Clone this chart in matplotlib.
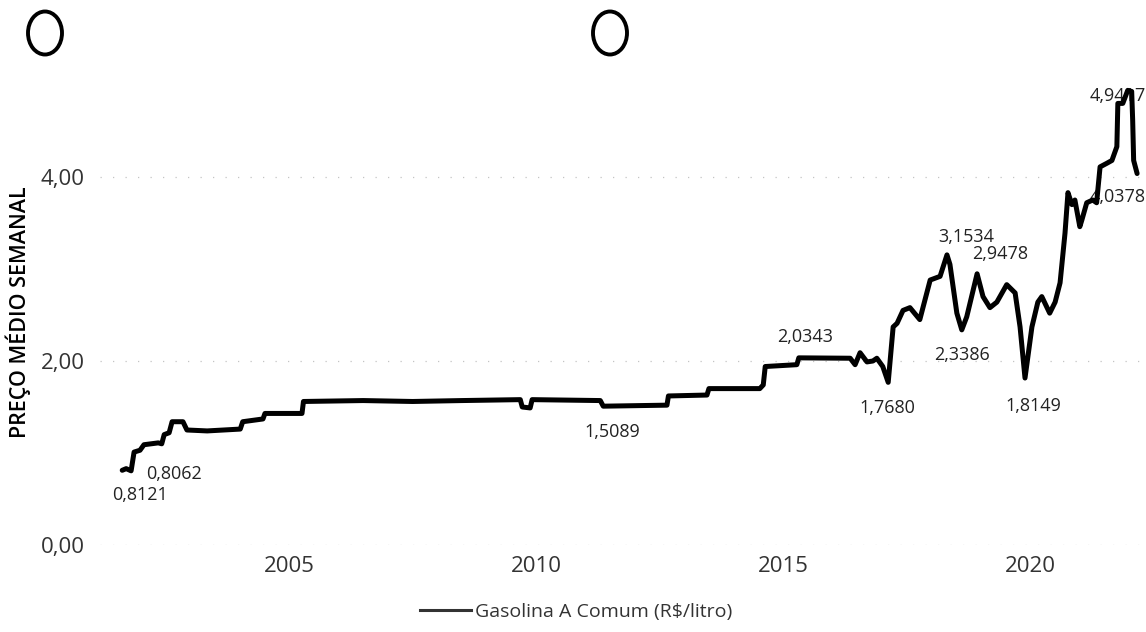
import matplotlib.pyplot as plt
from matplotlib.lines import Line2D
from matplotlib.patches import Ellipse

plt.rcParams['font.family'] = ['Open Sans', 'DejaVu Sans']

# weekly average price (x in decimal years)
datas = [2001.62, 2001.70, 2001.80, 2001.86, 2001.98, 2002.06, 2002.35, 2002.42,
         2002.47, 2002.57, 2002.63, 2002.85, 2002.93, 2003.34, 2004.01, 2004.06,
         2004.47, 2004.51, 2005.26, 2005.29, 2006.50, 2007.50, 2008.50, 2009.68,
         2009.72, 2009.88, 2009.92, 2011.30, 2011.36, 2012.65, 2012.68, 2013.46,
         2013.50, 2014.53, 2014.60, 2014.64, 2015.28, 2015.32, 2016.36, 2016.46,
         2016.56, 2016.70, 2016.82, 2016.90, 2017.02, 2017.13, 2017.23, 2017.31,
         2017.43, 2017.57, 2017.77, 2017.98, 2018.18, 2018.32, 2018.38, 2018.52,
         2018.62, 2018.72, 2018.93, 2019.05, 2019.19, 2019.33, 2019.53, 2019.70,
         2019.80, 2019.90, 2020.04, 2020.16, 2020.24, 2020.40, 2020.51, 2020.61,
         2020.71, 2020.77, 2020.85, 2020.91, 2021.01, 2021.05, 2021.15, 2021.27,
         2021.35, 2021.42, 2021.56, 2021.66, 2021.76, 2021.78, 2021.88, 2021.98,
         2022.06, 2022.08, 2022.10, 2022.17]
precos = [0.8121, 0.83, 0.8062, 1.01, 1.03, 1.09, 1.11, 1.10,
          1.20, 1.22, 1.34, 1.34, 1.25, 1.24, 1.26, 1.34,
          1.37, 1.43, 1.43, 1.56, 1.57, 1.56, 1.57, 1.58,
          1.50, 1.49, 1.58, 1.57, 1.5089, 1.52, 1.62, 1.63,
          1.70, 1.70, 1.74, 1.94, 1.96, 2.0343, 2.03, 1.96,
          2.09, 1.99, 2.00, 2.03, 1.94, 1.7680, 2.37, 2.41,
          2.55, 2.58, 2.45, 2.88, 2.92, 3.1534, 3.05, 2.52,
          2.3386, 2.48, 2.9478, 2.70, 2.58, 2.64, 2.83, 2.74,
          2.37, 1.8149, 2.37, 2.64, 2.70, 2.52, 2.64, 2.85,
          3.39, 3.83, 3.70, 3.75, 3.46, 3.53, 3.72, 3.75,
          3.72, 4.11, 4.15, 4.18, 4.33, 4.80, 4.80, 4.9417,
          4.93, 4.62, 4.18, 4.0378]

rotulos = ['0,8121', '0,8062', '1,5089', '2,0343', '1,7680', '3,1534',
           '2,9478', '2,3386', '1,8149', '4,9417', '4,0378']
rotulos_idx = [0, 2, 28, 37, 45, 53, 58, 56, 65, 87, 91]
# label offsets in pixels (layout only)
offsets = [(18, -25), (43, -3), (9, -26), (6, 21), (-1, -26), (19, 18),
           (23, 20), (0, -25), (8, -28), (-10, -6), (-19, -23)]

anos = [2005, 2010, 2015, 2020]
yticks = [0, 2, 4]
ytick_labels = ['0,00', '2,00', '4,00']

fig = plt.figure(figsize=(11.46, 6.32), dpi=100)
ax = fig.add_axes([100/1146, 87/632, 1046/1146, 464.6/632])

ax.plot(datas, precos, color='black', linewidth=3.6, zorder=3,
        solid_joinstyle='round', solid_capstyle='round')

for txt, i, (dx, dy) in zip(rotulos, rotulos_idx, offsets):
    ax.annotate(txt, xy=(datas[i], precos[i]), xytext=(dx, dy),
                textcoords='offset pixels', ha='center', va='center',
                fontsize=13, color='#222222', zorder=2)

ax.set_xlim(2001.17, 2022.35)
ax.set_ylim(0, 5.05)
ax.set_xticks(anos)
ax.set_xticklabels([str(a) for a in anos])
ax.set_yticks(yticks)
ax.set_yticklabels(ytick_labels)
ax.tick_params(axis='both', length=0, labelsize=16, colors='#333333')
ax.tick_params(axis='x', pad=8)
ax.tick_params(axis='y', pad=11)
for s in ax.spines.values():
    s.set_visible(False)
ax.grid(axis='y', color='#c4c4c4', linestyle=(0, (1, 9)), linewidth=0.9)
ax.set_axisbelow(True)

fig.text(18/1146, 1 - 312/632, 'PREÇO MÉDIO SEMANAL', rotation=90,
         ha='center', va='center', fontsize=15.5, fontweight='semibold', color='black')

handle = Line2D([], [], color='#333333', linewidth=2.2)
fig.legend([handle], ['Gasolina A Comum (R$/litro)'], loc='center',
           bbox_to_anchor=(576/1146, 1 - 612/632), frameon=False,
           fontsize=14, handlelength=2.6, handletextpad=0.2, labelcolor='#333333')

# the two round marks at the top of the page
for cx in [45, 610]:
    fig.patches.append(Ellipse((cx/1146, 1 - 33/632), 34/1146, 43/632,
                               transform=fig.transFigure, fill=False,
                               edgecolor='black', linewidth=2.8))

fig.savefig('out.png', dpi=100)
